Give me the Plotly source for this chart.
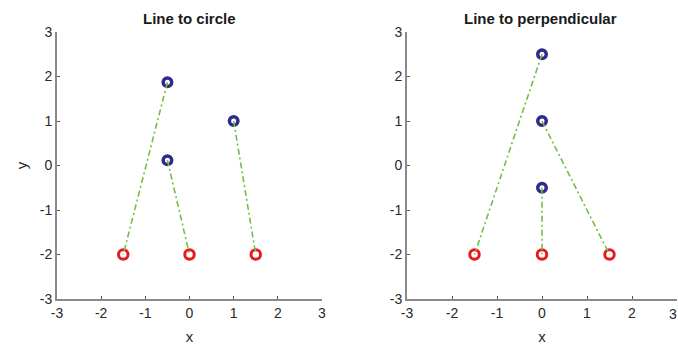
import plotly.graph_objects as go

# Left panel: "Line to circle"
circ_start_x = [-0.5, -0.5, 1.0]
circ_start_y = [1.87, 0.12, 1.0]
circ_end_x = [-1.5, 0.0, 1.5]
circ_end_y = [-2.0, -2.0, -2.0]

# Right panel: "Line to perpendicular"
perp_start_x = [0.0, 0.0, 0.0]
perp_start_y = [2.5, 1.0, -0.5]
perp_end_x = [-1.5, 1.5, 0.0]
perp_end_y = [-2.0, -2.0, -2.0]

tick_vals = [-3, -2, -1, 0, 1, 2, 3]
tick_text = ["-3", "-2", "-1", "0", "1", "2", "3"]
titles = ["Line to circle", "Line to perpendicular"]

GREEN = "#74bf43"
BLUE = "#2e2a8e"
RED = "#e81a1d"
AXIS = "#8a8a8a"
TXT = "#2a2a2a"
FONT = "Liberation Sans, Arial"

fig = go.Figure()

panels = [
    (circ_start_x, circ_start_y, circ_end_x, circ_end_y, "x", "y"),
    (perp_start_x, perp_start_y, perp_end_x, perp_end_y, "x2", "y2"),
]

for sx, sy, ex, ey, xa, ya in panels:
    fig.add_trace(go.Scatter(
        x=sx, y=sy, mode="markers",
        marker=dict(symbol="circle-open", size=8.5, color=BLUE, line=dict(width=3.5, color=BLUE)),
        xaxis=xa, yaxis=ya, showlegend=False))
    fig.add_trace(go.Scatter(
        x=ex, y=ey, mode="markers",
        marker=dict(symbol="circle-open", size=9.5, color=RED, line=dict(width=3, color=RED)),
        xaxis=xa, yaxis=ya, showlegend=False))
    for i in range(len(sx)):
        fig.add_trace(go.Scatter(
            x=[sx[i], ex[i]], y=[sy[i], ey[i]], mode="lines",
            line=dict(color=GREEN, width=1.6, dash="6px,3px,2px,3px"),
            xaxis=xa, yaxis=ya, showlegend=False, hoverinfo="skip"))

W, H = 678, 347
ytop = 1 - 32 / H
ybot = 1 - 299 / H

axis_common = dict(
    range=[-3, 3], tickvals=tick_vals, ticktext=tick_text, showgrid=False, zeroline=False,
    showline=True, linecolor=AXIS, linewidth=2, mirror=False,
    ticks="inside", ticklen=3, tickcolor="#555555", tickwidth=1,
    tickfont=dict(family=FONT, size=14, color=TXT),
    fixedrange=True, automargin=False,
)

fig.update_layout(
    width=W, height=H,
    margin=dict(l=0, r=0, t=0, b=0),
    paper_bgcolor="white", plot_bgcolor="white",
    xaxis=dict(domain=[57 / W, 322 / W], anchor="y",
               title=dict(text="x", standoff=12, font=dict(family=FONT, size=15, color=TXT)),
               **axis_common),
    yaxis=dict(domain=[ybot, ytop], anchor="x",
               title=dict(text="y", standoff=8, font=dict(family=FONT, size=15, color=TXT)),
               **axis_common),
    xaxis2=dict(domain=[407 / W, 677 / W], anchor="y2",
                title=dict(text="x", standoff=12, font=dict(family=FONT, size=15, color=TXT)),
                **axis_common),
    yaxis2=dict(domain=[ybot, ytop], anchor="x2", **axis_common),
    annotations=[
        dict(text="<b>" + titles[0] + "</b>", x=189 / W, y=1 - 19 / H, xref="paper", yref="paper",
             showarrow=False, xanchor="center", yanchor="middle",
             font=dict(family=FONT, size=15, color="#1a1a1a")),
        dict(text="<b>" + titles[1] + "</b>", x=540 / W, y=1 - 18 / H, xref="paper", yref="paper",
             showarrow=False, xanchor="center", yanchor="middle",
             font=dict(family=FONT, size=15, color="#1a1a1a")),
        dict(text=tick_text[-1], x=1.0, xref="paper", y=1 - 314 / H, yref="paper",
             showarrow=False, xanchor="right", yanchor="middle", borderpad=0,
             font=dict(family=FONT, size=14, color=TXT)),
    ],
)

fig.write_html("out.html", config={"displayModeBar": False},
               post_script="document.body.style.margin='0';document.body.style.overflow='hidden';")
